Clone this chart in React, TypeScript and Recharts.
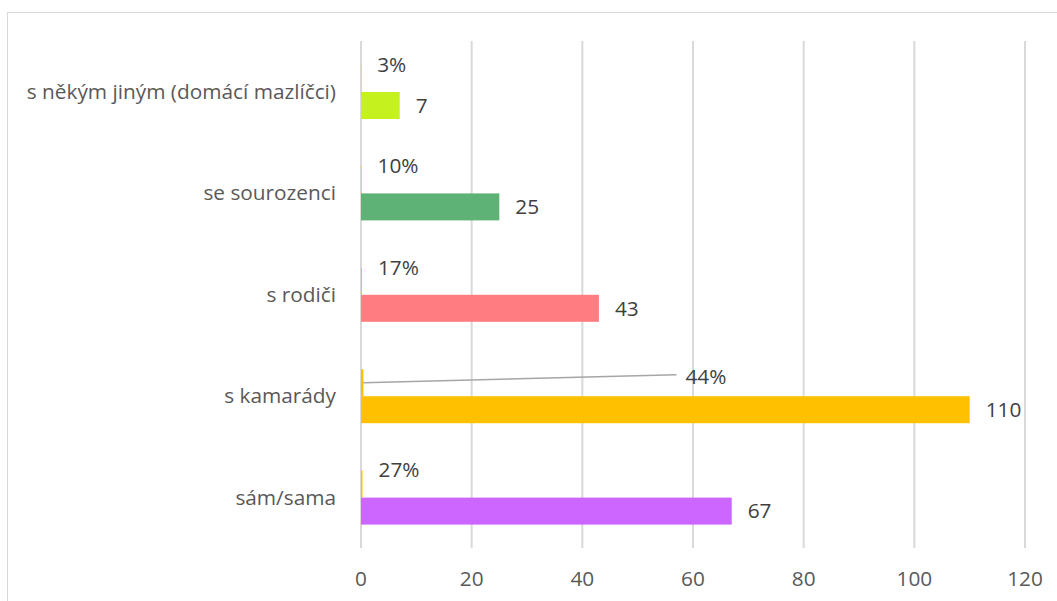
import { Bar, BarChart, CartesianGrid, LabelList, XAxis, YAxis } from 'recharts';

const CATEGORIES = ['s někým jiným (domácí mazlíčci)', 'se sourozenci', 's rodiči', 's kamarády', 'sám/sama '];
const COUNTS = [7, 25, 43, 110, 67];
const SHARES = [0.03, 0.1, 0.17, 0.44, 0.27];
const COUNT_COLORS = ['#C5F21F', '#5EB275', '#FF7C80', '#FFC000', '#CC66FF'];
const SHARE_COLOR = '#FFC000';
const X_TICKS = [0, 20, 40, 60, 80, 100, 120];

// index of the share label that was dragged away in the original, with a leader line
const DRAGGED_LABEL = 3;

const FONT = '"Open Sans", "Noto Sans", sans-serif';
const FONT_SIZE = 20.8;
const AXIS_TEXT = '#595959';
const LABEL_TEXT = '#404040';
const GRID = '#D9D9D9';

const data = CATEGORIES.map((name, i) => ({
  name,
  share: SHARES[i],
  count: COUNTS[i]
}));

function formatShare(value: number) {
  return `${Math.round(value * 100)}%`;
}

function ShareLabel({ x, y, width, height, value, index }: any) {
  const endX = Number(x) + Number(width);
  const midY = Number(y) + Number(height) / 2;
  if (index === DRAGGED_LABEL) {
    return (
      <g>
        <line x1={endX} y1={midY} x2={endX + 313} y2={midY - 8} stroke="#A6A6A6" strokeWidth={1.5} />
        <text x={endX + 322} y={midY - 6} dy="0.35em" fill={LABEL_TEXT} fontSize={FONT_SIZE} fontFamily={FONT}>
          {formatShare(value)}
        </text>
      </g>
    );
  }
  return (
    <text x={endX + 16} y={midY - 14} dy="0.35em" fill={LABEL_TEXT} fontSize={FONT_SIZE} fontFamily={FONT}>
      {formatShare(value)}
    </text>
  );
}

export default function App() {
  return (
    <div style={{ position: 'relative', width: 1057, height: 601, overflow: 'hidden', background: '#fff' }}>
      <style>{'body { margin: 0; }'}</style>
      <div
        style={{
          position: 'absolute',
          left: 7,
          top: 12,
          width: 1100,
          height: 700,
          borderLeft: `1.5px solid ${GRID}`,
          borderTop: `1.5px solid ${GRID}`
        }}
      />
      <div style={{ position: 'absolute', left: 0, top: 0 }}>
        <BarChart
          width={1057}
          height={601}
          data={data}
          layout="vertical"
          margin={{ top: 41, right: 32, bottom: 0, left: 0 }}
          barGap={0}
          barSize={27}
        >
          <CartesianGrid horizontal={false} stroke={GRID} strokeWidth={2} />
          <XAxis
            type="number"
            domain={[0, 120]}
            ticks={X_TICKS}
            height={53}
            axisLine={false}
            tickLine={false}
            tickSize={0}
            tickMargin={23}
            tick={{ fill: AXIS_TEXT, fontSize: FONT_SIZE, fontFamily: FONT }}
          />
          <YAxis
            type="category"
            dataKey="name"
            width={361}
            axisLine={false}
            tickLine={false}
            tickSize={0}
            tickMargin={25}
            tick={{ fill: AXIS_TEXT, fontSize: FONT_SIZE, fontFamily: FONT }}
          />
          <Bar dataKey="share" fill={SHARE_COLOR} isAnimationActive={false}>
            <LabelList dataKey="share" content={<ShareLabel />} />
          </Bar>
          <Bar dataKey="count" isAnimationActive={false} shape={(props: any) => (
            <rect
              x={props.x}
              y={props.y}
              width={props.width}
              height={props.height}
              fill={COUNT_COLORS[props.index]}
            />
          )}>
            <LabelList
              dataKey="count"
              position="right"
              offset={16}
              fill={LABEL_TEXT}
              fontSize={FONT_SIZE}
              fontFamily={FONT}
            />
          </Bar>
        </BarChart>
      </div>
    </div>
  );
}
